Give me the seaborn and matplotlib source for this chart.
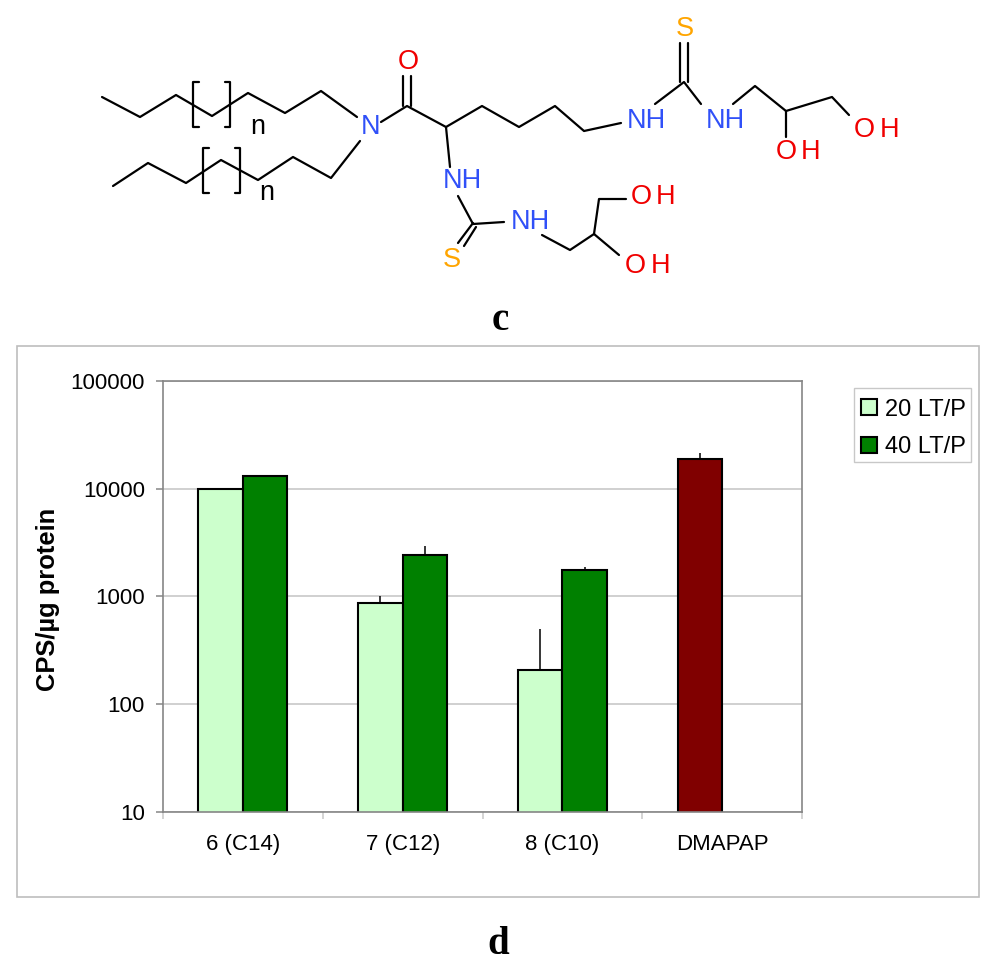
"""Cationic lipid structure (c) above the CPS/ug protein bar chart (d)."""

from __future__ import annotations

import matplotlib

matplotlib.use("Agg")
import matplotlib.pyplot as plt
import pandas as pd
import seaborn as sns
from matplotlib.patches import Rectangle

WIDTH, HEIGHT = 1000, 973

CATEGORIES = ["6 (C14)", "7 (C12)", "8 (C10)", "DMAPAP"]
SERIES_NAMES = ["20 LT/P", "40 LT/P"]
VALUES_20 = [10000, 872, 207, 18750]
VALUES_40 = [13120, 2436, 1743]
UPPER_ERR_20 = [0, 133, 286, 2550]
UPPER_ERR_40 = [0, 494, 117]
Y_TICKS = [10, 100, 1000, 10000, 100000]
Y_TICK_LABELS = ["10", "100", "1000", "10000", "100000"]

LIGHT_GREEN = "#CCFFCC"
DARK_GREEN = "#008000"
MAROON = "#800000"
AXIS_GREY = "#868686"
GRID_GREY = "#C8C8C8"

# molecule drawing, in image pixels
BONDS = [
    [(102, 97), (140, 117), (176, 95), (212, 116), (248, 93), (285, 113), (321, 91), (357, 117)],
    [(113, 186), (148, 163), (186, 183), (221, 160), (258, 180), (293, 157), (331, 178), (360, 141)],
    [(381, 122), (407, 106), (446, 127), (482, 106), (519, 127), (555, 106), (584, 131), (621, 123)],
    [(403.3, 76), (403.3, 106)],
    [(410.7, 76), (410.7, 106)],
    [(655, 104), (684, 82), (701, 104)],
    [(680, 43), (680, 82)],
    [(688.3, 43), (688.3, 82)],
    [(733, 104), (755, 86), (786, 111), (832, 97), (849, 115)],
    [(786, 111), (786, 137)],
    [(446, 127), (450, 167)],
    [(458, 196), (473, 224), (504, 222)],
    [(473, 223), (458, 243)],
    [(476, 227), (464, 246)],
    [(542, 235), (570, 250), (594, 234), (599, 199), (626, 199)],
    [(594, 234), (619, 255)],
]
BRACKETS = [
    [(199, 82), (193, 82), (193, 127), (199, 127)],
    [(225, 82), (230, 82), (230, 127), (225, 127)],
    [(209, 148), (203, 148), (203, 193), (209, 193)],
    [(235, 148), (240, 148), (240, 193), (235, 193)],
]
ATOM_LABELS = [
    ("O", 408, 62, "#F00000"),
    ("N", 371, 127, "#3050F8"),
    ("NH", 646, 121, "#3050F8"),
    ("NH", 725, 121, "#3050F8"),
    ("NH", 462, 181, "#3050F8"),
    ("NH", 530, 222, "#3050F8"),
    ("S", 685, 29, "#FFA500"),
    ("S", 452, 260, "#FFA500"),
    ("O", 786, 152, "#F00000"),
    ("H", 811, 152, "#F00000"),
    ("O", 864, 130, "#F00000"),
    ("H", 890, 130, "#F00000"),
    ("O", 641, 197, "#F00000"),
    ("H", 666, 197, "#F00000"),
    ("O", 635, 266, "#F00000"),
    ("H", 661, 266, "#F00000"),
    ("n", 258, 127, "black"),
    ("n", 267, 193, "black"),
]


def draw_molecule(layer) -> None:
    for path in BONDS + BRACKETS:
        xs, ys = zip(*path)
        layer.plot(xs, ys, color="black", lw=1.6, solid_capstyle="round")
    for text, x, y, color in ATOM_LABELS:
        layer.text(x, y, text, color=color, fontsize=19.5, ha="center", va="center")


def main() -> None:
    sns.set_style("white")
    plt.rcParams["font.family"] = ["Liberation Sans", "DejaVu Sans"]

    fig = plt.figure(figsize=(WIDTH / 100, HEIGHT / 100), dpi=100)

    # full-figure layer for the drawing, the frames and panel letters
    layer = fig.add_axes([0, 0, 1, 1], zorder=0)
    layer.set_xlim(0, WIDTH)
    layer.set_ylim(HEIGHT, 0)
    layer.axis("off")
    draw_molecule(layer)
    layer.add_patch(Rectangle((16.5, 346), 962.5, 551, fill=False, ec="#BEBEBE", lw=1.2))
    layer.add_patch(Rectangle((853.5, 387.5), 117, 74, fill=False, ec=GRID_GREY, lw=1.0))
    for letter, x, y in [("c", 500, 320), ("d", 498, 944)]:
        layer.text(x, y, letter, family="Liberation Serif", weight="bold", fontsize=28,
                   ha="center", va="center", color="black")

    ax = fig.add_axes(
        [163 / WIDTH, 1 - 811.5 / HEIGHT, (802 - 163) / WIDTH, (811.5 - 381) / HEIGHT],
        zorder=1,
    )
    df = pd.DataFrame(
        {
            "category": CATEGORIES + CATEGORIES[: len(VALUES_40)],
            "series": [SERIES_NAMES[0]] * len(VALUES_20) + [SERIES_NAMES[1]] * len(VALUES_40),
            "cps": VALUES_20 + VALUES_40,
        }
    )
    sns.barplot(
        data=df,
        x="category",
        y="cps",
        hue="series",
        order=CATEGORIES,
        hue_order=SERIES_NAMES,
        palette=[LIGHT_GREEN, DARK_GREEN],
        saturation=1,
        width=0.557,
        gap=0,
        errorbar=None,
        edgecolor="black",
        linewidth=1.5,
        legend=False,
        ax=ax,
    )
    # log scale set afterwards, seaborn's log_scale left the bars flat
    ax.set_yscale("log", nonpositive="clip")
    bars_20, bars_40 = ax.containers
    bars_20[3].set_facecolor(MAROON)

    # upper-only error bars on each bar's centre
    for bars, values, errors in [(bars_20, VALUES_20, UPPER_ERR_20), (bars_40, VALUES_40, UPPER_ERR_40)]:
        centres = [bar.get_x() + bar.get_width() / 2 for bar in bars]
        ax.errorbar(centres, values, yerr=[[0] * len(values), errors], fmt="none",
                    ecolor="black", elinewidth=1.1, capsize=0, zorder=1.5)

    ax.set_xlim(-0.5, 3.5)
    ax.set_ylim(Y_TICKS[0], Y_TICKS[-1])
    ax.set_yticks(Y_TICKS, Y_TICK_LABELS)
    ax.minorticks_off()
    ax.set_xticks(range(len(CATEGORIES)), CATEGORIES)
    ax.set_xticks([-0.5, 0.5, 1.5, 2.5, 3.5], minor=True)
    ax.tick_params(axis="x", which="major", length=0, pad=16, labelsize=16, labelcolor="black")
    ax.tick_params(axis="x", which="minor", length=5, width=1.1, color=GRID_GREY, bottom=True)
    ax.tick_params(axis="y", which="major", length=5, width=1.1, color=AXIS_GREY, pad=8,
                   labelsize=16, labelcolor="black", left=True)
    ax.set_xlabel("")
    ax.set_ylabel("")
    ax.set_axisbelow(True)
    ax.yaxis.grid(True, color=GRID_GREY, lw=1.2)
    ax.xaxis.grid(False)
    for spine in ax.spines.values():
        spine.set_visible(True)
        spine.set_color(AXIS_GREY)
        spine.set_linewidth(1.2)

    layer.text(48, 599, "CPS/µg protein", rotation=90, weight="bold", fontsize=18.4,
               ha="center", va="center", color="black")

    ax.legend(
        handles=[bars_20[0], bars_40[0]],
        labels=SERIES_NAMES,
        loc="upper left",
        bbox_to_anchor=(861 / WIDTH, 1 - 398.7 / HEIGHT),
        bbox_transform=fig.transFigure,
        borderaxespad=0,
        fontsize=17,
        frameon=False,
        handlelength=0.66,
        handleheight=0.66,
        handletextpad=0.34,
        labelspacing=0.65,
        borderpad=0,
        labelcolor="black",
    )

    fig.savefig("out.png", dpi=100)
    plt.close(fig)


if __name__ == "__main__":
    main()
